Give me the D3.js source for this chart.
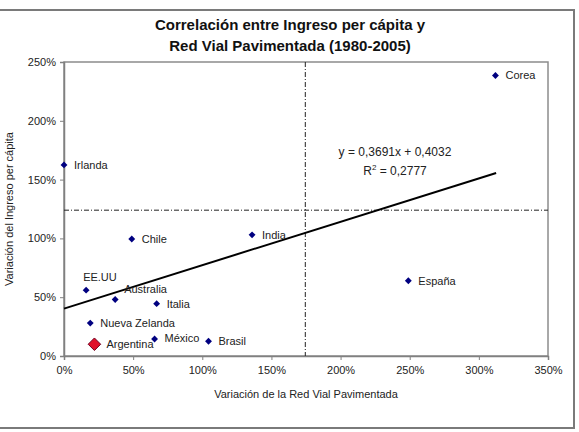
<!DOCTYPE html>
<html>
<meta charset="utf-8">
<script src="https://cdn.jsdelivr.net/npm/d3@7"></script>
<style>
body { margin: 0; background: white; }
svg text { font-family: "Liberation Sans", Arial, sans-serif; }
.axis path, .axis line { stroke: #808080; }
.axis text { font-size: 11px; fill: #222; }
</style>
<body>
<div id="chart"></div>
<script>
// datos (variacion 1980-2005, en fraccion)
var paises = ["Irlanda", "Chile", "India", "EE.UU", "Australia", "Italia",
              "Nueva Zelanda", "Argentina", "México", "Brasil", "España", "Corea"];
var redVial = [0.00, 0.49, 1.36, 0.16, 0.37, 0.67, 0.19, 0.22, 0.655, 1.045, 2.49, 3.12];
var ingreso = [1.625, 0.995, 1.03, 0.56, 0.48, 0.445, 0.28, 0.10, 0.145, 0.125, 0.64, 2.385];
var xTicks = [0, 0.5, 1, 1.5, 2, 2.5, 3, 3.5];
var yTicks = [0, 0.5, 1, 1.5, 2, 2.5];
var tendencia = {pendiente: 0.3691, ordenada: 0.4032, r2: 0.2777, xFin: 3.125};
var refX = 1.745, refY = 1.24;

var width = 579, height = 432;
var margin = {top: 62, right: 31, bottom: 76, left: 64};

var svg = d3.select("#chart").append("svg")
  .attr("width", width).attr("height", height);

// marco exterior
svg.append("rect")
  .attr("x", -2).attr("y", 10).attr("width", 576).attr("height", 418)
  .attr("fill", "white").attr("stroke", "#7a7a7a").attr("stroke-width", 2);

var x = d3.scaleLinear().domain([0, 3.5]).range([margin.left, width - margin.right]);
var y = d3.scaleLinear().domain([0, 2.5]).range([height - margin.bottom, margin.top]);
var pct = d3.format(".0%");

// titulo
var titulo = svg.append("text")
  .attr("text-anchor", "middle")
  .style("font-size", "15px").style("font-weight", "bold").attr("fill", "#111");
titulo.append("tspan").attr("x", 290).attr("y", 30).text("Correlación entre Ingreso per cápita y");
titulo.append("tspan").attr("x", 290).attr("y", 51).text("Red Vial Pavimentada (1980-2005)");

// borde del area de trazado
svg.append("rect")
  .attr("x", x(0)).attr("y", y(2.5))
  .attr("width", x(3.5) - x(0)).attr("height", y(0) - y(2.5))
  .attr("fill", "none").attr("stroke", "#8c8c8c").attr("stroke-width", 1.5);

svg.append("g").attr("class", "axis")
  .attr("transform", "translate(0," + y(0) + ")")
  .call(d3.axisBottom(x).tickValues(xTicks).tickFormat(pct).tickSize(4).tickPadding(6));

svg.append("g").attr("class", "axis")
  .attr("transform", "translate(" + x(0) + ",0)")
  .call(d3.axisLeft(y).tickValues(yTicks).tickFormat(pct).tickSize(4).tickPadding(4));

svg.selectAll(".axis path").attr("stroke-width", 1.5);

// titulos de ejes
svg.append("text")
  .attr("x", x(1.75)).attr("y", 398)
  .attr("text-anchor", "middle").style("font-size", "11px").attr("fill", "#222")
  .text("Variación de la Red Vial Pavimentada");

svg.append("text")
  .attr("transform", "translate(13," + y(1.25) + ") rotate(-90)")
  .attr("text-anchor", "middle").style("font-size", "11px").attr("fill", "#222")
  .text("Variación del Ingreso per cápita");

// lineas de referencia
svg.append("line")
  .attr("x1", x(refX)).attr("x2", x(refX)).attr("y1", y(2.5)).attr("y2", y(0))
  .attr("stroke", "#222").attr("stroke-width", 1).attr("stroke-dasharray", "5,2,1,2");
svg.append("line")
  .attr("x1", x(0)).attr("x2", x(3.5)).attr("y1", y(refY)).attr("y2", y(refY))
  .attr("stroke", "#222").attr("stroke-width", 1).attr("stroke-dasharray", "5,2,1,2");

// linea de tendencia
svg.append("line")
  .attr("x1", x(0)).attr("y1", y(tendencia.ordenada))
  .attr("x2", x(tendencia.xFin)).attr("y2", y(tendencia.pendiente * tendencia.xFin + tendencia.ordenada))
  .attr("stroke", "#000").attr("stroke-width", 2);

var eq = svg.append("text").attr("text-anchor", "middle")
  .style("font-size", "12px").attr("fill", "#222");
eq.append("tspan").attr("x", 395).attr("y", 156)
  .text("y = 0,3691x + 0,4032");
var r2 = svg.append("text").attr("text-anchor", "middle")
  .style("font-size", "12px").attr("fill", "#222").attr("x", 395).attr("y", 175);
r2.append("tspan").text("R");
r2.append("tspan").attr("dy", -5).style("font-size", "8px").text("2");
r2.append("tspan").attr("dy", 5).text(" = 0,2777");

// puntos
var datos = paises.map(function(p, i) { return {pais: p, x: redVial[i], y: ingreso[i]}; });

svg.selectAll(".punto").data(datos).enter()
  .append("path")
  .attr("class", "punto")
  .attr("d", function(d) {
    return d3.symbol().type(d3.symbolDiamond2).size(d.pais == "Argentina" ? 100 : 30)();
  })
  .attr("transform", function(d) { return "translate(" + x(d.x) + "," + y(d.y) + ")"; })
  .attr("fill", function(d) { return d.pais == "Argentina" ? "#e0102a" : "#000080"; })
  .attr("stroke", function(d) { return d.pais == "Argentina" ? "#700020" : "none"; })
  .attr("stroke-width", 1);

// etiquetas (desplazamientos a mano)
var desplaz = {
  "EE.UU": [-3, -13, "start"],
  "Australia": [9, -10, "start"],
  "Argentina": [12, 0, "start"],
  "México": [10, -1, "start"]
};
svg.selectAll(".etiqueta").data(datos).enter()
  .append("text")
  .attr("class", "etiqueta")
  .attr("x", function(d) { return x(d.x) + (desplaz[d.pais] ? desplaz[d.pais][0] : 10); })
  .attr("y", function(d) { return y(d.y) + (desplaz[d.pais] ? desplaz[d.pais][1] : 0); })
  .attr("dy", "0.35em")
  .style("font-size", "11px").attr("fill", "#222")
  .text(function(d) { return d.pais; });
</script>
</body>
</html>
